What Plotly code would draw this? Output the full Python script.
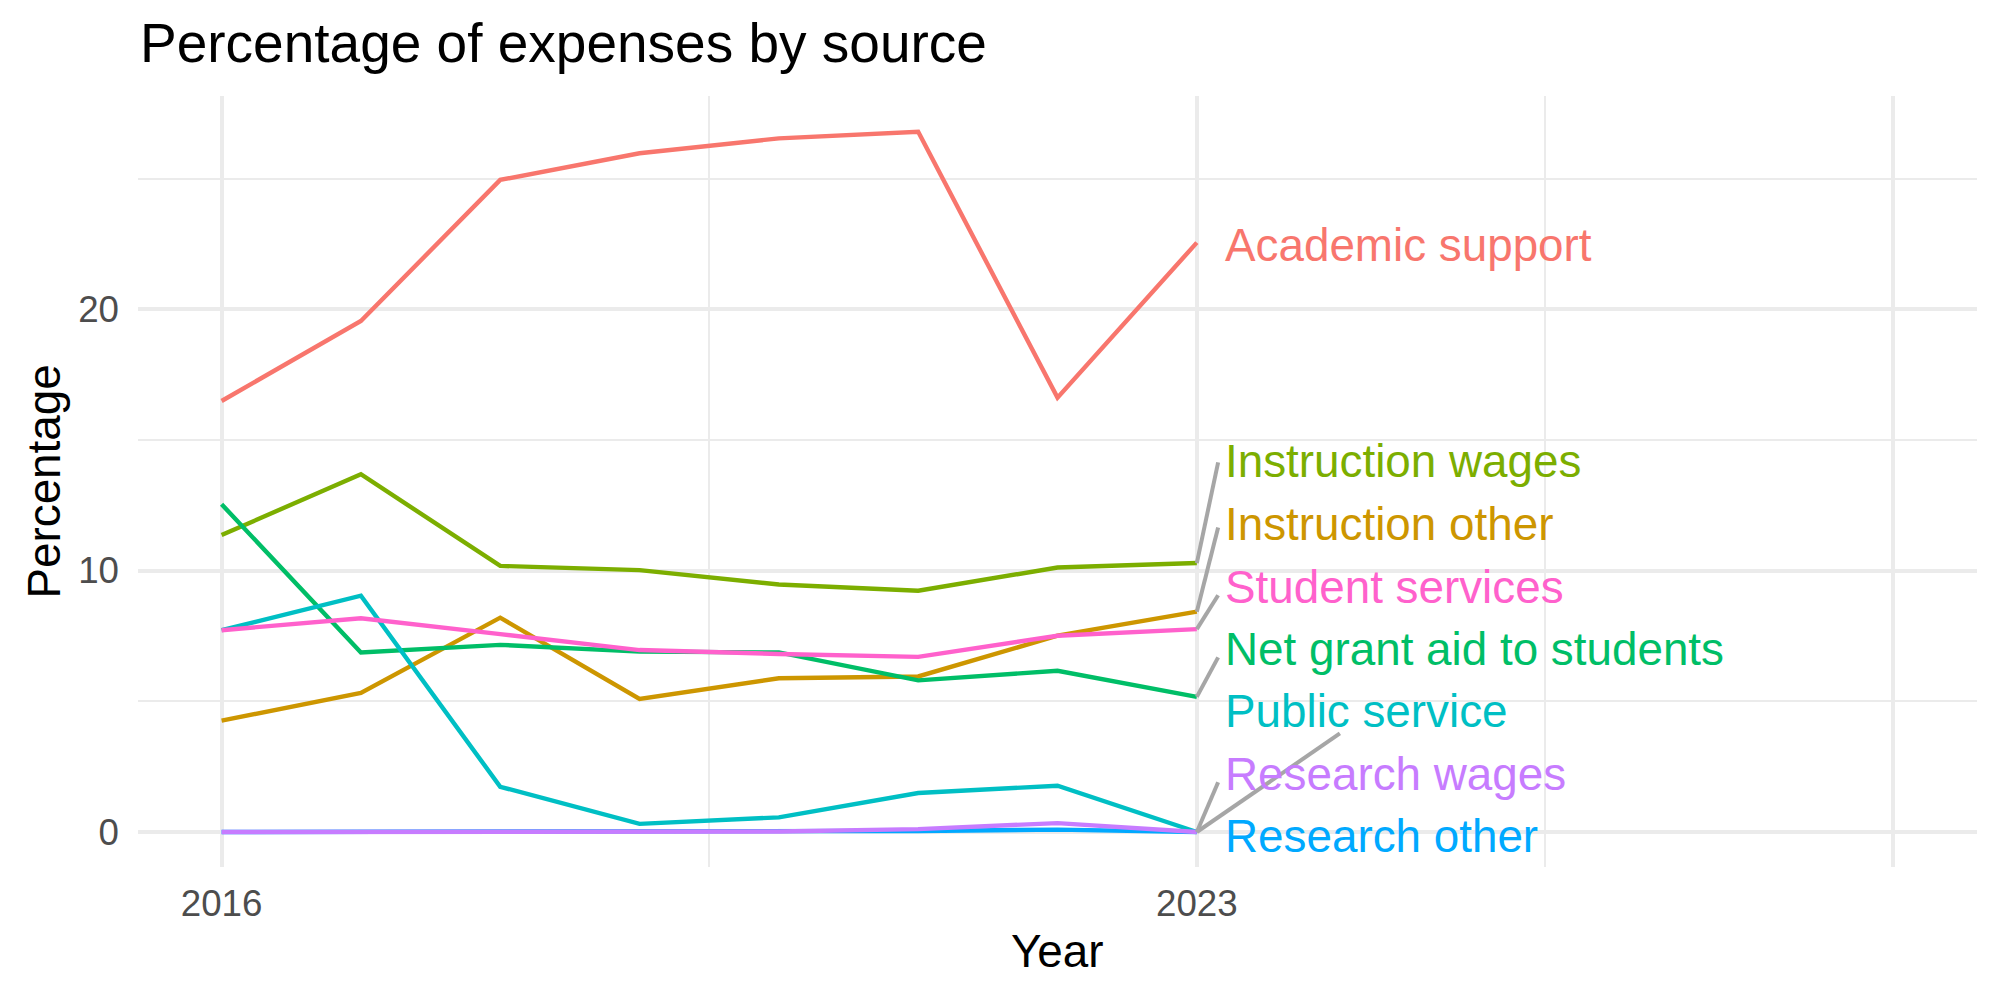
import plotly.graph_objects as go

years = [2016, 2017, 2018, 2019, 2020, 2021, 2022, 2023]

categories = [
    "Academic support",
    "Instruction other",
    "Instruction wages",
    "Net grant aid to students",
    "Public service",
    "Research other",
    "Research wages",
    "Student services",
]

academic_support = [16.49, 19.55, 24.95, 25.97, 26.54, 26.79, 16.62, 22.55]
instruction_other = [4.26, 5.32, 8.20, 5.09, 5.88, 5.95, 7.51, 8.43]
instruction_wages = [11.36, 13.69, 10.18, 10.02, 9.47, 9.23, 10.12, 10.29]
net_grant_aid = [12.54, 6.87, 7.16, 6.90, 6.87, 5.80, 6.17, 5.17]
public_service = [7.72, 9.04, 1.73, 0.31, 0.56, 1.49, 1.77, 0.0]
research_other = [0.0, 0.0, 0.0, 0.0, 0.0, 0.04, 0.09, 0.0]
research_wages = [0.0, 0.0, 0.0, 0.0, 0.02, 0.11, 0.34, 0.0]
student_services = [7.72, 8.18, 7.57, 6.96, 6.81, 6.70, 7.51, 7.76]

series = [academic_support, instruction_other, instruction_wages, net_grant_aid,
          public_service, research_other, research_wages, student_services]

colors = ["#F8766D", "#CD9600", "#7CAE00", "#00BE67",
          "#00BFC4", "#00A9FF", "#C77CFF", "#FF61CC"]

# repelled label placement (data units)
label_x = 2023.19
label_y = [22.44, 11.77, 14.16, 6.99, 4.60, -0.18, 2.21, 9.36]
# segment end points for repelled labels (None = no segment)
seg_end_x = [None, 2023.153, 2023.153, 2023.153, 2024.027, None, 2023.153, 2023.153]
seg_end_y = [None, 11.65, 14.14, 6.68, 3.77, None, 1.90, 9.06]

x_breaks = [2016, 2023, 2028]
x_labels = ["2016", "2023", ""]
x_minor = [2019.5, 2025.5]
y_breaks = [0, 10, 20]
y_minor = [5, 15, 25]

FONT = "Liberation Sans, Arial, Helvetica, sans-serif"
GRID = "#EBEBEB"

fig = go.Figure()

for name, vals, col in zip(categories, series, colors):
    fig.add_trace(go.Scatter(
        x=years, y=vals, mode="lines", name=name,
        line=dict(color=col, width=4.4),
        hoverinfo="skip", showlegend=False,
    ))

for i, vals in enumerate(series):
    if seg_end_x[i] is None:
        continue
    fig.add_trace(go.Scatter(
        x=[years[-1], seg_end_x[i]], y=[vals[-1], seg_end_y[i]],
        mode="lines", line=dict(color="#A6A6A6", width=4),
        hoverinfo="skip", showlegend=False,
    ))

for name, ly, col in zip(categories, label_y, colors):
    fig.add_annotation(
        x=label_x, y=ly, xref="x", yref="y", text=name,
        showarrow=False, xanchor="left", yanchor="middle",
        font=dict(family=FONT, size=45.8, color=col),
    )

# axis titles
fig.add_annotation(x=0.5, y=-0.109, xref="paper", yref="paper", text="Year",
                   showarrow=False, xanchor="center", yanchor="middle",
                   font=dict(family=FONT, size=45.8, color="black"))
fig.add_annotation(x=-0.0511, y=0.5, xref="paper", yref="paper", text="Percentage",
                   showarrow=False, xanchor="center", yanchor="middle", textangle=-90,
                   font=dict(family=FONT, size=45.8, color="black"))

fig.update_layout(
    width=2000, height=1000,
    margin=dict(l=138, r=23, t=96, b=133),
    paper_bgcolor="white", plot_bgcolor="white",
    title=dict(text="Percentage of expenses by source", x=140 / 2000, xref="container",
               xanchor="left", y=1 - 43 / 1000, yref="container", yanchor="middle",
               font=dict(family=FONT, size=55, color="black")),
    xaxis=dict(
        range=[2015.4, 2028.6], tickmode="array", tickvals=x_breaks, ticktext=x_labels,
        showgrid=True, gridcolor=GRID, gridwidth=4.4, zeroline=False, showline=False,
        ticks="", ticklabelstandoff=11,
        tickfont=dict(family=FONT, size=36.7, color="#4D4D4D"),
        minor=dict(tickmode="array", tickvals=x_minor, showgrid=True, gridcolor=GRID,
                   gridwidth=2.2, ticks=""),
    ),
    yaxis=dict(
        range=[-1.34, 28.16], tickmode="array", tickvals=y_breaks,
        ticktext=[str(v) for v in y_breaks],
        showgrid=True, gridcolor=GRID, gridwidth=4.4, zeroline=False, showline=False,
        ticks="", ticklabelstandoff=18,
        tickfont=dict(family=FONT, size=36.7, color="#4D4D4D"),
        minor=dict(tickmode="array", tickvals=y_minor, showgrid=True, gridcolor=GRID,
                   gridwidth=2.2, ticks=""),
    ),
)

fig.write_html("out.html")
